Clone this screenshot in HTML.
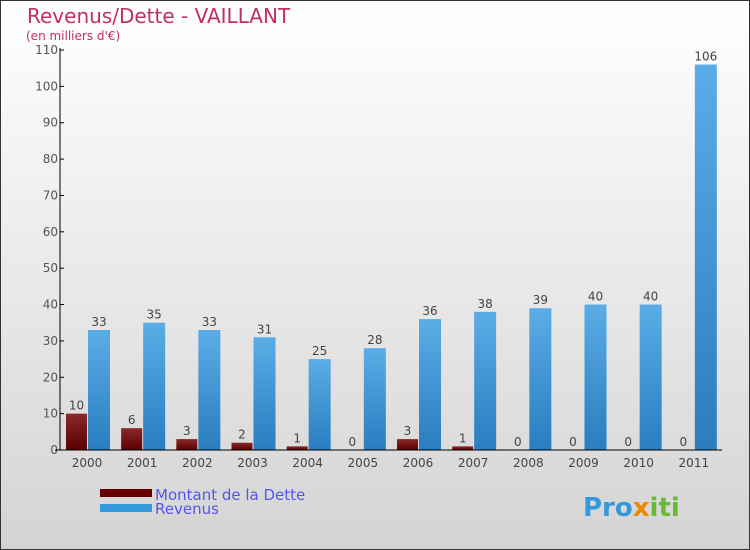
<!DOCTYPE html>
<html><head><meta charset="utf-8"><style>
body{margin:0;}
#c{width:750px;height:550px;position:relative;overflow:hidden;font-family:"DejaVu Sans","Liberation Sans",sans-serif;}
</style></head><body>
<div id="c">
<svg id="s" width="750" height="550" xmlns="http://www.w3.org/2000/svg">
<defs>
<linearGradient id="bg" x1="0" y1="0" x2="0" y2="1"><stop offset="0" stop-color="#ffffff"/><stop offset="1" stop-color="#d4d4d4"/></linearGradient>
<linearGradient id="gb" x1="0" y1="0" x2="0" y2="1"><stop offset="0" stop-color="#5aade6"/><stop offset="1" stop-color="#2a7dbf"/></linearGradient>
<linearGradient id="gr" x1="0" y1="0" x2="0" y2="1"><stop offset="0" stop-color="#8a2a2a"/><stop offset="1" stop-color="#5a0000"/></linearGradient>
</defs>
<rect x="0.5" y="0.5" width="749" height="549" fill="url(#bg)" stroke="#333"/>
<text x="27" y="23" font-size="20" fill="#c0305a">Revenus/Dette - VAILLANT</text>
<text x="26" y="40" font-size="12" fill="#c0305a">(en milliers d'€)</text>
<g id="plot"></g>
<rect x="100" y="489" width="52" height="8" fill="#660000"/>
<rect x="100" y="504" width="52" height="8" fill="#3399dd"/>
<text x="155" y="500" font-size="15" fill="#5555ee">Montant de la Dette</text>
<text x="155" y="514" font-size="15" fill="#5555ee">Revenus</text>
<text x="583" y="516" font-size="26" font-weight="bold" fill="#3399dd">Pro<tspan fill="#ee8800">x</tspan><tspan fill="#66bb33">iti</tspan></text>
</svg>
</div>
<script>
const categories=["2000","2001","2002","2003","2004","2005","2006","2007","2008","2009","2010","2011"];
const dette=[10,6,3,2,1,0,3,1,0,0,0,0];
const revenus=[33,35,33,31,25,28,36,38,39,40,40,106];
const yTicks=[0,10,20,30,40,50,60,70,80,90,100,110];
const NS="http://www.w3.org/2000/svg";
const g=document.getElementById("plot");
const x0=60,x1=722,y0=450,y1=50,yMax=110;
const bw=(x1-x0)/categories.length;
function y(v){return y0-(v/yMax)*(y0-y1);}
function el(t,a){const e=document.createElementNS(NS,t);for(const k in a)e.setAttribute(k,a[k]);g.appendChild(e);return e;}
yTicks.forEach(t=>{
 const l=el("line",{x1:x0,x2:x0+4,y1:y(t),y2:y(t),stroke:"#000"});
 
 
 const tx=el("text",{x:x0-2,y:y(t)+4,"font-size":12,fill:"#555","text-anchor":"end"});
 tx.textContent=t;
 
 
});
categories.forEach((c,i)=>{
 const gx=x0+i*bw;
 const hd=y0-y(dette[i]);
 const r1=el("rect",{x:gx+6,y:y(dette[i]),width:21,height:hd,fill:"url(#gr)"});
 
 
 const r2=el("rect",{x:gx+28,y:y(revenus[i]),width:22,height:y0-y(revenus[i]),fill:"url(#gb)"});
 
 
 const t1=el("text",{x:gx+16.5,y:y(dette[i])-4,"font-size":12,fill:"#444","text-anchor":"middle"});
 t1.textContent=dette[i];
 
 
 const t2=el("text",{x:gx+39,y:y(revenus[i])-4,"font-size":12,fill:"#444","text-anchor":"middle"});
 t2.textContent=revenus[i];
 
 
 const tl=el("text",{x:gx+27,y:467,"font-size":12,fill:"#444","text-anchor":"middle"});
 tl.textContent=c;
 
 
});
const ya=el("line",{x1:x0,x2:x0,y1:y1-2,y2:y0,stroke:"#000"});


const xa=el("line",{x1:x0-5,x2:x1,y1:y0,y2:y0,stroke:"#000"});


</script>
</body></html>
